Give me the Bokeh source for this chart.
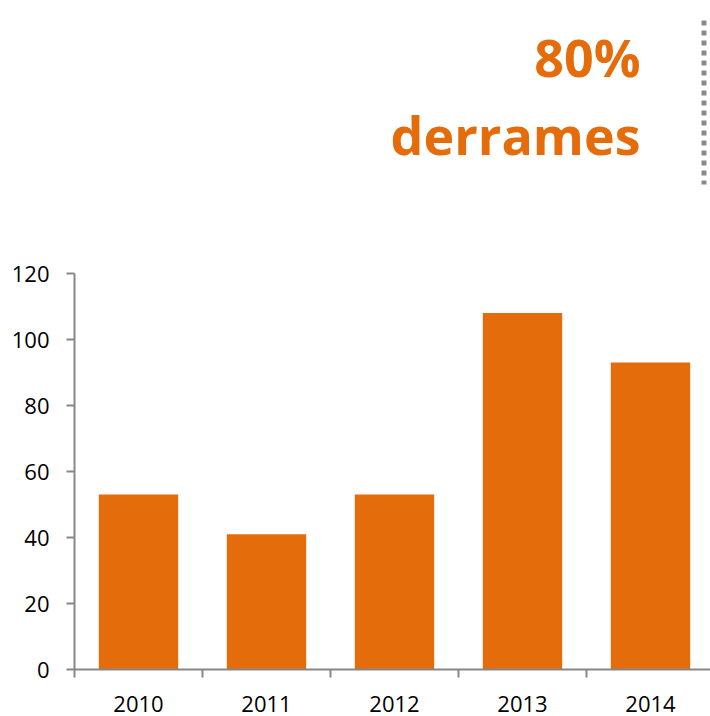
import numpy as np
from bokeh.plotting import figure
from bokeh.models import Range1d, FixedTicker, Label
from bokeh.embed import file_html
from bokeh.resources import INLINE

# ---- data ----
years = ["2010", "2011", "2012", "2013", "2014"]
values = [53, 41, 53, 108, 93]
y_ticks = [0, 20, 40, 60, 80, 100, 120]
headline = ["80%", "derrames"]

ORANGE = "#E46C0A"
AXIS = "#878787"

n = len(years)
centers = list(np.arange(n) + 0.5)
bounds = list(np.arange(n + 1).astype(float))

p = figure(width=710, height=716, output_backend="svg", toolbar_location=None,
           x_range=Range1d(0, 636 / 128), y_range=Range1d(0, 669 / 3.3),
           min_border_left=74, min_border_right=0, min_border_top=0,
           min_border_bottom=47)
p.outline_line_color = None
p.xgrid.visible = False
p.ygrid.visible = False
p.background_fill_color = "white"
p.border_fill_color = "white"

p.vbar(x=centers, top=values, width=0.62, color=ORANGE, line_color=None)

# y axis
ya = p.yaxis[0]
ya.ticker = FixedTicker(ticks=y_ticks, minor_ticks=[])
ya.bounds = (y_ticks[0], y_ticks[-1])
ya.axis_line_color = AXIS
ya.axis_line_width = 2
ya.major_tick_line_color = AXIS
ya.major_tick_line_width = 2
ya.major_tick_out = 8
ya.major_tick_in = 0
ya.minor_tick_line_color = None
ya.major_label_text_font = "Open Sans"
ya.major_label_text_font_size = "22px"
ya.major_label_text_color = "#000000"
ya.major_label_standoff = 17

# x axis
xa = p.xaxis[0]
xa.ticker = FixedTicker(ticks=centers, minor_ticks=bounds)
xa.major_label_overrides = {c: y for c, y in zip(centers, years)}
xa.axis_line_color = AXIS
xa.axis_line_width = 2
xa.major_tick_line_color = None
xa.major_tick_out = 0
xa.major_tick_in = 0
xa.minor_tick_line_color = AXIS
xa.minor_tick_line_width = 2
xa.minor_tick_out = 8
xa.minor_tick_in = 0
xa.major_label_text_font = "Open Sans"
xa.major_label_text_font_size = "22px"
xa.major_label_text_color = "#000000"
xa.major_label_standoff = 18

# headline text
for txt, yy in zip(headline, [(669 - 56) / 3.3, (669 - 134) / 3.3]):
    p.add_layout(Label(x=(640 - 74) / 128, y=yy, text=txt, text_align="right",
                       text_baseline="alphabetic", text_font="Open Sans",
                       text_font_style="bold", text_font_size="52px",
                       text_color=ORANGE))

# dotted separator
p.line(x=[(703.5 - 74) / 128] * 2, y=[(669 - 20) / 3.3, (669 - 184) / 3.3],
       line_color="#8a8a8a", line_width=5, line_dash="5 5", line_cap="butt")

open("out.html", "w").write(file_html(p, INLINE))
